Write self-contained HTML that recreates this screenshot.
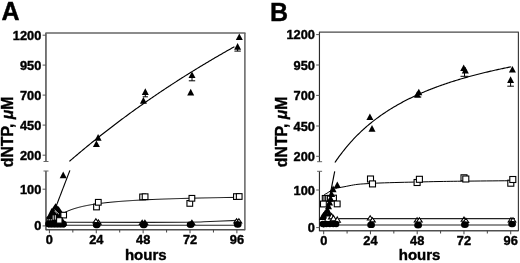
<!DOCTYPE html>
<html><head><meta charset="utf-8"><style>
html,body{margin:0;padding:0;background:#fff;overflow:hidden;}
svg{display:block;filter:grayscale(100%) blur(0.3px);}
text{font-family:"Liberation Sans", sans-serif;fill:#000;stroke:#000;stroke-width:0.4px;}
</style></head><body>
<svg width="520" height="263" viewBox="0 0 520 263">
<rect width="520" height="263" fill="#fff"/>
<path d="M244.9 229.7H46.0" stroke="#505050" stroke-width="1.35" fill="none"/>
<path d="M45.95 161.5V33.0M45.95 230.29999999999998V171.0" stroke="#404040" stroke-width="1.4" fill="none"/>
<path d="M244.9 33.0V230.29999999999998" stroke="#505050" stroke-width="1.35" fill="none"/>
<path d="M45.4 32.9H245.5" stroke="#666" stroke-width="1.45" fill="none"/>
<path d="M43.5 161.5H48.5M43.5 171.0H48.5" stroke="#666" stroke-width="1"/>
<path d="M42.6 35.2H46.0" stroke="#555" stroke-width="1"/>
<text x="41.30" y="39.70" text-anchor="end" font-size="12.8" font-weight="bold">1200</text>
<path d="M42.6 65.1H46.0" stroke="#555" stroke-width="1"/>
<text x="41.30" y="69.60" text-anchor="end" font-size="12.8" font-weight="bold">950</text>
<path d="M42.6 95.1H46.0" stroke="#555" stroke-width="1"/>
<text x="41.30" y="99.60" text-anchor="end" font-size="12.8" font-weight="bold">700</text>
<path d="M42.6 125.1H46.0" stroke="#555" stroke-width="1"/>
<text x="41.30" y="129.60" text-anchor="end" font-size="12.8" font-weight="bold">450</text>
<path d="M42.6 155.2H46.0" stroke="#555" stroke-width="1"/>
<text x="41.30" y="159.70" text-anchor="end" font-size="12.8" font-weight="bold">200</text>
<path d="M42.6 189.2H46.0" stroke="#555" stroke-width="1"/>
<text x="41.30" y="193.70" text-anchor="end" font-size="12.8" font-weight="bold">100</text>
<path d="M42.6 225.9H46.0" stroke="#555" stroke-width="1"/>
<text x="41.30" y="230.40" text-anchor="end" font-size="12.8" font-weight="bold">0</text>
<path d="M49.40 229.7V233.29999999999998" stroke="#444" stroke-width="1"/>
<text x="49.40" y="243.8" text-anchor="middle" font-size="12.8" font-weight="bold">0</text>
<path d="M72.84 229.7V232.5" stroke="#444" stroke-width="1"/>
<path d="M96.27 229.7V233.29999999999998" stroke="#444" stroke-width="1"/>
<text x="96.27" y="243.8" text-anchor="middle" font-size="12.8" font-weight="bold">24</text>
<path d="M119.71 229.7V232.5" stroke="#444" stroke-width="1"/>
<path d="M143.14 229.7V233.29999999999998" stroke="#444" stroke-width="1"/>
<text x="143.14" y="243.8" text-anchor="middle" font-size="12.8" font-weight="bold">48</text>
<path d="M166.58 229.7V232.5" stroke="#444" stroke-width="1"/>
<path d="M190.02 229.7V233.29999999999998" stroke="#444" stroke-width="1"/>
<text x="190.02" y="243.8" text-anchor="middle" font-size="12.8" font-weight="bold">72</text>
<path d="M213.45 229.7V232.5" stroke="#444" stroke-width="1"/>
<path d="M236.89 229.7V233.29999999999998" stroke="#444" stroke-width="1"/>
<text x="236.89" y="243.8" text-anchor="middle" font-size="12.8" font-weight="bold">96</text>
<text x="145.8" y="259.6" text-anchor="middle" font-size="15" font-weight="bold">hours</text>
<text transform="translate(13.2 131.9) rotate(-90)" text-anchor="middle" font-size="15.8" font-weight="bold">dNTP, <tspan font-style="italic">μ</tspan>M</text>
<text x="1.5" y="19.8" font-size="25" font-weight="bold">A</text>
<path d="M69.40 161.37L70.38 160.53L71.35 159.69L72.33 158.85L73.30 158.01L74.28 157.18L75.26 156.35L76.23 155.52L77.21 154.69L78.19 153.87L79.16 153.04L80.14 152.22L81.12 151.41L82.09 150.59L83.07 149.78L84.05 148.97L85.02 148.16L86.00 147.36L86.98 146.55L87.95 145.75L88.93 144.95L89.91 144.15L90.88 143.36L91.86 142.57L92.83 141.78L93.81 140.99L94.79 140.20L95.76 139.42L96.74 138.64L97.72 137.86L98.69 137.08L99.67 136.31L100.65 135.54L101.62 134.77L102.60 134.00L103.58 133.23L104.55 132.47L105.53 131.71L106.51 130.95L107.48 130.19L108.46 129.43L109.44 128.68L110.41 127.93L111.39 127.18L112.36 126.43L113.34 125.68L114.32 124.94L115.29 124.20L116.27 123.46L117.25 122.72L118.22 121.99L119.20 121.25L120.18 120.52L121.15 119.79L122.13 119.07L123.11 118.34L124.08 117.62L125.06 116.89L126.04 116.18L127.01 115.46L127.99 114.74L128.97 114.03L129.94 113.32L130.92 112.60L131.89 111.90L132.87 111.19L133.85 110.49L134.82 109.78L135.80 109.08L136.78 108.38L137.75 107.69L138.73 106.99L139.71 106.30L140.68 105.61L141.66 104.92L142.64 104.23L143.61 103.54L144.59 102.86L145.57 102.17L146.54 101.49L147.52 100.81L148.50 100.14L149.47 99.46L150.45 98.79L151.42 98.11L152.40 97.44L153.38 96.78L154.35 96.11L155.33 95.44L156.31 94.78L157.28 94.12L158.26 93.46L159.24 92.80L160.21 92.14L161.19 91.49L162.17 90.83L163.14 90.18L164.12 89.53L165.10 88.88L166.07 88.24L167.05 87.59L168.03 86.95L169.00 86.31L169.98 85.66L170.95 85.03L171.93 84.39L172.91 83.75L173.88 83.12L174.86 82.49L175.84 81.86L176.81 81.23L177.79 80.60L178.77 79.97L179.74 79.35L180.72 78.73L181.70 78.11L182.67 77.49L183.65 76.87L184.63 76.25L185.60 75.63L186.58 75.02L187.56 74.41L188.53 73.80L189.51 73.19L190.48 72.58L191.46 71.98L192.44 71.37L193.41 70.77L194.39 70.17L195.37 69.57L196.34 68.97L197.32 68.37L198.30 67.77L199.27 67.18L200.25 66.59L201.23 65.99L202.20 65.40L203.18 64.82L204.16 64.23L205.13 63.64L206.11 63.06L207.09 62.47L208.06 61.89L209.04 61.31L210.01 60.73L210.99 60.16L211.97 59.58L212.94 59.01L213.92 58.43L214.90 57.86L215.87 57.29L216.85 56.72L217.83 56.15L218.80 55.59L219.78 55.02L220.76 54.46L221.73 53.89L222.71 53.33L223.69 52.77L224.66 52.21L225.64 51.66L226.62 51.10L227.59 50.55L228.57 49.99L229.54 49.44L230.52 48.89L231.50 48.34L232.47 47.79L233.45 47.25L234.43 46.70" stroke="#000" stroke-width="1.15" fill="none"/>
<path d="M48.60 225.90L69.90 170.40" stroke="#000" stroke-width="1.15" fill="none"/>
<path d="M63.07 213.35L64.05 212.82L65.02 212.32L66.00 211.85L66.98 211.40L67.95 210.97L68.93 210.56L69.91 210.18L70.88 209.81L71.86 209.46L72.84 209.12L73.81 208.80L74.79 208.49L75.77 208.19L76.74 207.91L77.72 207.63L78.69 207.37L79.67 207.12L80.65 206.88L81.62 206.64L82.60 206.42L83.58 206.20L84.55 205.99L85.53 205.79L86.51 205.59L87.48 205.40L88.46 205.22L89.44 205.04L90.41 204.87L91.39 204.70L92.37 204.54L93.34 204.39L94.32 204.23L95.30 204.09L96.27 203.94L97.25 203.80L98.22 203.67L99.20 203.54L100.18 203.41L101.15 203.29L102.13 203.16L103.11 203.05L104.08 202.93L105.06 202.82L106.04 202.71L107.01 202.60L107.99 202.50L108.97 202.40L109.94 202.30L110.92 202.20L111.90 202.11L112.87 202.02L113.85 201.93L114.83 201.84L115.80 201.75L116.78 201.67L117.75 201.59L118.73 201.51L119.71 201.43L120.68 201.35L121.66 201.28L122.64 201.20L123.61 201.13L124.59 201.06L125.57 200.99L126.54 200.92L127.52 200.85L128.50 200.79L129.47 200.72L130.45 200.66L131.43 200.60L132.40 200.54L133.38 200.48L134.36 200.42L135.33 200.36L136.31 200.31L137.28 200.25L138.26 200.20L139.24 200.15L140.21 200.09L141.19 200.04L142.17 199.99L143.14 199.94L144.12 199.89L145.10 199.84L146.07 199.80L147.05 199.75L148.03 199.70L149.00 199.66L149.98 199.62L150.96 199.57L151.93 199.53L152.91 199.49L153.89 199.45L154.86 199.40L155.84 199.36L156.81 199.32L157.79 199.29L158.77 199.25L159.74 199.21L160.72 199.17L161.70 199.14L162.67 199.10L163.65 199.06L164.63 199.03L165.60 198.99L166.58 198.96L167.56 198.93L168.53 198.89L169.51 198.86L170.49 198.83L171.46 198.79L172.44 198.76L173.42 198.73L174.39 198.70L175.37 198.67L176.34 198.64L177.32 198.61L178.30 198.58L179.27 198.55L180.25 198.53L181.23 198.50L182.20 198.47L183.18 198.44L184.16 198.42L185.13 198.39L186.11 198.36L187.09 198.34L188.06 198.31L189.04 198.29L190.02 198.26L190.99 198.24L191.97 198.21L192.95 198.19L193.92 198.16L194.90 198.14L195.88 198.12L196.85 198.10L197.83 198.07L198.80 198.05L199.78 198.03L200.76 198.01L201.73 197.98L202.71 197.96L203.69 197.94L204.66 197.92L205.64 197.90L206.62 197.88L207.59 197.86L208.57 197.84L209.55 197.82L210.52 197.80L211.50 197.78L212.48 197.76L213.45 197.74L214.43 197.72L215.41 197.70L216.38 197.69L217.36 197.67L218.33 197.65L219.31 197.63L220.29 197.61L221.26 197.60L222.24 197.58L223.22 197.56L224.19 197.54L225.17 197.53L226.15 197.51L227.12 197.49L228.10 197.48L229.08 197.46L230.05 197.45L231.03 197.43L232.01 197.41L232.98 197.40L233.96 197.38L234.94 197.37L235.91 197.35L236.89 197.34" stroke="#000" stroke-width="1.0" fill="none"/>
<path d="M60 222.3L150 222.4C175 222.4 195 222.3 204 221.8C215 221.3 228 220.9 237.5 220.4" stroke="#222" stroke-width="1.1" fill="none"/>
<path d="M60 225.2H238" stroke="#222" stroke-width="1.1" fill="none"/>
<rect x="93.65" y="204.15" width="5.70" height="5.70" fill="#fff" stroke="#000" stroke-width="1.1"/>
<rect x="95.45" y="199.45" width="5.70" height="5.70" fill="#fff" stroke="#000" stroke-width="1.1"/>
<rect x="139.75" y="194.05" width="5.70" height="5.70" fill="#fff" stroke="#000" stroke-width="1.1"/>
<rect x="142.25" y="193.85" width="5.70" height="5.70" fill="#fff" stroke="#000" stroke-width="1.1"/>
<rect x="186.95" y="200.55" width="5.70" height="5.70" fill="#fff" stroke="#000" stroke-width="1.1"/>
<rect x="189.05" y="195.45" width="5.70" height="5.70" fill="#fff" stroke="#000" stroke-width="1.1"/>
<rect x="233.55" y="193.75" width="5.70" height="5.70" fill="#fff" stroke="#000" stroke-width="1.1"/>
<rect x="236.35" y="193.65" width="5.70" height="5.70" fill="#fff" stroke="#000" stroke-width="1.1"/>
<path d="M55.6 203.2L57.7 206.2L58.7 206.5L62.6 212.3L62.4 217.8L66.7 224.3L66.7 225.6L64.6 227.4L48.3 227.6L46.3 226.2L46.3 217.2L47.6 215.9L51.5 208.3L52.1 208.4Z" fill="#000"/>
<circle cx="48.50" cy="224.00" r="3.30" fill="#000"/>
<circle cx="51.50" cy="224.00" r="3.30" fill="#000"/>
<circle cx="54.50" cy="224.00" r="3.30" fill="#000"/>
<circle cx="57.50" cy="224.00" r="3.30" fill="#000"/>
<circle cx="60.50" cy="224.00" r="3.30" fill="#000"/>
<circle cx="63.50" cy="224.00" r="3.30" fill="#000"/>
<rect x="60.90" y="212.30" width="5.60" height="5.60" fill="#fff" stroke="#000" stroke-width="1.1"/>
<rect x="56.60" y="217.70" width="5.40" height="5.40" fill="#fff" stroke="#000" stroke-width="1.1"/>
<path d="M53.2 215.4V219.8M55.3 215.2V219.6" stroke="#fff" stroke-width="0.9"/>
<path d="M54.6 209.9L59.0 214.2M54.9 211.1Q55.6 212.5 56.9 213.4" stroke="#fff" stroke-width="0.75" fill="none"/>
<circle cx="47.9" cy="219.8" r="0.55" fill="#fff"/>
<circle cx="49.6" cy="219.8" r="0.55" fill="#fff"/>
<circle cx="51.3" cy="219.8" r="0.55" fill="#fff"/>
<path d="M98.30 219.90L101.10 224.10L95.50 224.10Z" fill="#fff" stroke="#000" stroke-width="1.1" stroke-linejoin="miter"/>
<path d="M95.90 218.70L98.70 222.90L93.10 222.90Z" fill="#fff" stroke="#000" stroke-width="1.1" stroke-linejoin="miter"/>
<circle cx="96.00" cy="225.10" r="3.15" fill="#000"/>
<circle cx="97.40" cy="225.10" r="3.15" fill="#000"/>
<path d="M142.20 220.20L145.00 224.40L139.40 224.40Z" fill="#fff" stroke="#000" stroke-width="1.1" stroke-linejoin="miter"/>
<path d="M144.90 220.20L147.70 224.40L142.10 224.40Z" fill="#fff" stroke="#000" stroke-width="1.1" stroke-linejoin="miter"/>
<circle cx="143.00" cy="225.00" r="3.15" fill="#000"/>
<circle cx="144.40" cy="225.00" r="3.15" fill="#000"/>
<path d="M191.90 220.20L194.70 224.40L189.10 224.40Z" fill="#fff" stroke="#000" stroke-width="1.1" stroke-linejoin="miter"/>
<circle cx="189.90" cy="224.70" r="3.15" fill="#000"/>
<circle cx="191.30" cy="224.70" r="3.15" fill="#000"/>
<path d="M236.60 218.70L239.40 222.90L233.80 222.90Z" fill="#fff" stroke="#000" stroke-width="1.1" stroke-linejoin="miter"/>
<path d="M238.90 218.70L241.70 222.90L236.10 222.90Z" fill="#fff" stroke="#000" stroke-width="1.1" stroke-linejoin="miter"/>
<circle cx="237.00" cy="224.40" r="3.15" fill="#000"/>
<circle cx="238.40" cy="224.40" r="3.15" fill="#000"/>
<path d="M237.60 46.00V51.10M234.40 51.10H240.80" stroke="#000" stroke-width="1" fill="none"/>
<path d="M192.00 74.00V80.80M188.80 80.80H195.20" stroke="#000" stroke-width="1" fill="none"/>
<path d="M145.30 91.00V96.80M142.70 96.80H147.90" stroke="#000" stroke-width="1" fill="none"/>
<path d="M239.30 33.40L242.80 40.00L235.80 40.00Z" fill="#000"/>
<path d="M237.60 43.10L241.10 49.70L234.10 49.70Z" fill="#000"/>
<path d="M192.00 71.40L195.50 78.00L188.50 78.00Z" fill="#000"/>
<path d="M190.70 88.80L194.20 95.40L187.20 95.40Z" fill="#000"/>
<path d="M145.30 88.30L148.80 94.90L141.80 94.90Z" fill="#000"/>
<path d="M143.40 97.10L146.90 103.70L139.90 103.70Z" fill="#000"/>
<path d="M98.10 134.10L101.60 140.70L94.60 140.70Z" fill="#000"/>
<path d="M96.40 140.40L99.90 147.00L92.90 147.00Z" fill="#000"/>
<path d="M63.20 171.60L66.70 178.20L59.70 178.20Z" fill="#000"/>
<path d="M518.2 230.7H319.6" stroke="#505050" stroke-width="1.35" fill="none"/>
<path d="M319.45 161.7V32.1M319.45 231.29999999999998V171.3" stroke="#2a2a2a" stroke-width="1.15" fill="none"/>
<path d="M518.4 32.1V231.29999999999998" stroke="#383838" stroke-width="1.15" fill="none"/>
<path d="M319.0 32.05H518.8000000000001" stroke="#484848" stroke-width="1.3" fill="none"/>
<path d="M317.1 161.7H322.1M317.1 171.3H322.1" stroke="#666" stroke-width="1"/>
<path d="M316.20000000000005 34.6H319.6" stroke="#555" stroke-width="1"/>
<text x="314.90" y="39.10" text-anchor="end" font-size="12.8" font-weight="bold">1200</text>
<path d="M316.20000000000005 65.0H319.6" stroke="#555" stroke-width="1"/>
<text x="314.90" y="69.50" text-anchor="end" font-size="12.8" font-weight="bold">950</text>
<path d="M316.20000000000005 95.4H319.6" stroke="#555" stroke-width="1"/>
<text x="314.90" y="99.90" text-anchor="end" font-size="12.8" font-weight="bold">700</text>
<path d="M316.20000000000005 126.0H319.6" stroke="#555" stroke-width="1"/>
<text x="314.90" y="130.50" text-anchor="end" font-size="12.8" font-weight="bold">450</text>
<path d="M316.20000000000005 156.3H319.6" stroke="#555" stroke-width="1"/>
<text x="314.90" y="160.80" text-anchor="end" font-size="12.8" font-weight="bold">200</text>
<path d="M316.20000000000005 190.0H319.6" stroke="#555" stroke-width="1"/>
<text x="314.90" y="194.50" text-anchor="end" font-size="12.8" font-weight="bold">100</text>
<path d="M316.20000000000005 227.6H319.6" stroke="#555" stroke-width="1"/>
<text x="314.90" y="232.10" text-anchor="end" font-size="12.8" font-weight="bold">0</text>
<path d="M323.70 230.7V234.29999999999998" stroke="#444" stroke-width="1"/>
<text x="323.70" y="244.9" text-anchor="middle" font-size="12.8" font-weight="bold">0</text>
<path d="M347.08 230.7V233.5" stroke="#444" stroke-width="1"/>
<path d="M370.45 230.7V234.29999999999998" stroke="#444" stroke-width="1"/>
<text x="370.45" y="244.9" text-anchor="middle" font-size="12.8" font-weight="bold">24</text>
<path d="M393.83 230.7V233.5" stroke="#444" stroke-width="1"/>
<path d="M417.20 230.7V234.29999999999998" stroke="#444" stroke-width="1"/>
<text x="417.20" y="244.9" text-anchor="middle" font-size="12.8" font-weight="bold">48</text>
<path d="M440.58 230.7V233.5" stroke="#444" stroke-width="1"/>
<path d="M463.96 230.7V234.29999999999998" stroke="#444" stroke-width="1"/>
<text x="463.96" y="244.9" text-anchor="middle" font-size="12.8" font-weight="bold">72</text>
<path d="M487.33 230.7V233.5" stroke="#444" stroke-width="1"/>
<path d="M510.71 230.7V234.29999999999998" stroke="#444" stroke-width="1"/>
<text x="510.71" y="244.9" text-anchor="middle" font-size="12.8" font-weight="bold">96</text>
<text x="419.6" y="260.4" text-anchor="middle" font-size="15" font-weight="bold">hours</text>
<text transform="translate(287.2 131.8) rotate(-90)" text-anchor="middle" font-size="15.8" font-weight="bold">dNTP, <tspan font-style="italic">μ</tspan>M</text>
<text x="270.0" y="20.5" font-size="25" font-weight="bold">B</text>
<path d="M334.90 162.55L335.88 161.11L336.85 159.70L337.82 158.32L338.80 156.96L339.77 155.63L340.75 154.32L341.72 153.03L342.69 151.77L343.67 150.53L344.64 149.31L345.62 148.11L346.59 146.93L347.56 145.77L348.54 144.64L349.51 143.52L350.49 142.42L351.46 141.34L352.43 140.28L353.41 139.23L354.38 138.20L355.35 137.19L356.33 136.19L357.30 135.21L358.28 134.25L359.25 133.30L360.22 132.36L361.20 131.44L362.17 130.53L363.15 129.64L364.12 128.76L365.09 127.89L366.07 127.04L367.04 126.19L368.02 125.36L368.99 124.55L369.96 123.74L370.94 122.94L371.91 122.16L372.89 121.39L373.86 120.63L374.83 119.88L375.81 119.14L376.78 118.40L377.76 117.68L378.73 116.97L379.70 116.27L380.68 115.58L381.65 114.90L382.63 114.22L383.60 113.56L384.57 112.90L385.55 112.25L386.52 111.61L387.50 110.98L388.47 110.35L389.44 109.74L390.42 109.13L391.39 108.53L392.37 107.93L393.34 107.35L394.31 106.77L395.29 106.20L396.26 105.63L397.24 105.07L398.21 104.52L399.19 103.97L400.16 103.43L401.13 102.90L402.11 102.38L403.08 101.85L404.06 101.34L405.03 100.83L406.00 100.33L406.98 99.83L407.95 99.34L408.92 98.85L409.90 98.37L410.87 97.90L411.85 97.42L412.82 96.96L413.79 96.50L414.77 96.04L415.74 95.59L416.72 95.15L417.69 94.71L418.66 94.27L419.64 93.84L420.61 93.41L421.59 92.99L422.56 92.57L423.53 92.16L424.51 91.75L425.48 91.34L426.46 90.94L427.43 90.54L428.40 90.15L429.38 89.76L430.35 89.37L431.33 88.99L432.30 88.61L433.27 88.24L434.25 87.87L435.22 87.50L436.20 87.13L437.17 86.77L438.14 86.42L439.12 86.06L440.09 85.71L441.07 85.37L442.04 85.02L443.01 84.68L443.99 84.35L444.96 84.01L445.94 83.68L446.91 83.35L447.88 83.03L448.86 82.71L449.83 82.39L450.81 82.07L451.78 81.76L452.75 81.45L453.73 81.14L454.70 80.83L455.68 80.53L456.65 80.23L457.62 79.93L458.60 79.64L459.57 79.35L460.55 79.06L461.52 78.77L462.50 78.48L463.47 78.20L464.44 77.92L465.42 77.64L466.39 77.37L467.37 77.10L468.34 76.82L469.31 76.56L470.29 76.29L471.26 76.03L472.24 75.76L473.21 75.50L474.18 75.25L475.16 74.99L476.13 74.74L477.11 74.49L478.08 74.24L479.05 73.99L480.03 73.74L481.00 73.50L481.98 73.26L482.95 73.02L483.92 72.78L484.90 72.54L485.87 72.31L486.85 72.08L487.82 71.85L488.79 71.62L489.77 71.39L490.74 71.16L491.71 70.94L492.69 70.72L493.66 70.50L494.64 70.28L495.61 70.06L496.58 69.85L497.56 69.63L498.53 69.42L499.51 69.21L500.48 69.00L501.45 68.79L502.43 68.59L503.40 68.38L504.38 68.18L505.35 67.98L506.32 67.78L507.30 67.58L508.27 67.38L509.25 67.18L510.22 66.99L511.19 66.80" stroke="#000" stroke-width="1.15" fill="none"/>
<path d="M323.70 227.60L334.70 171.30" stroke="#000" stroke-width="1.15" fill="none"/>
<path d="M324.00 194.70C324.50 194.45 325.83 193.88 327.00 193.20C328.17 192.52 329.60 191.37 331.00 190.60C332.40 189.83 333.90 189.12 335.40 188.60C336.90 188.08 338.57 187.80 340.00 187.50C341.43 187.20 342.33 187.12 344.00 186.80C345.67 186.48 347.67 186.02 350.00 185.60C352.33 185.18 354.67 184.65 358.00 184.30C361.33 183.95 366.33 183.72 370.00 183.50C373.67 183.28 375.00 183.18 380.00 183.00C385.00 182.82 393.67 182.57 400.00 182.40C406.33 182.23 411.33 182.15 418.00 182.00C424.67 181.85 431.33 181.65 440.00 181.50C448.67 181.35 458.00 181.23 470.00 181.10C482.00 180.97 505.00 180.77 512.00 180.70" stroke="#000" stroke-width="1.0" fill="none"/>
<path d="M339 218.6H515" stroke="#222" stroke-width="1.1" fill="none"/>
<path d="M338 225.0H515" stroke="#222" stroke-width="1.1" fill="none"/>
<rect x="322.30" y="195.50" width="5.60" height="5.60" fill="#fff" stroke="#000" stroke-width="1.1"/>
<rect x="324.00" y="195.50" width="5.60" height="5.60" fill="#fff" stroke="#000" stroke-width="1.1"/>
<rect x="325.70" y="195.50" width="5.60" height="5.60" fill="#fff" stroke="#000" stroke-width="1.1"/>
<rect x="327.40" y="195.50" width="5.60" height="5.60" fill="#fff" stroke="#000" stroke-width="1.1"/>
<rect x="330.80" y="195.20" width="5.60" height="5.60" fill="#fff" stroke="#000" stroke-width="1.1"/>
<rect x="320.50" y="201.10" width="5.80" height="5.80" fill="#fff" stroke="#000" stroke-width="1.1"/>
<rect x="334.30" y="201.00" width="5.80" height="5.80" fill="#fff" stroke="#000" stroke-width="1.1"/>
<path d="M337.30 181.40L340.80 188.00L333.80 188.00Z" fill="#000"/>
<path d="M333.10 185.60L336.60 192.20L329.60 192.20Z" fill="#000"/>
<path d="M331.60 190.50L335.10 197.10L328.10 197.10Z" fill="#000"/>
<path d="M330.60 194.80L334.10 201.40L327.10 201.40Z" fill="#000"/>
<path d="M329.60 198.80L333.10 205.40L326.10 205.40Z" fill="#000"/>
<path d="M328.50 202.60L332.00 209.20L325.00 209.20Z" fill="#000"/>
<path d="M327.40 206.30L330.90 212.90L323.90 212.90Z" fill="#000"/>
<path d="M325.20 209.50L328.70 216.10L321.70 216.10Z" fill="#000"/>
<path d="M323.60 211.80L327.10 218.40L320.10 218.40Z" fill="#000"/>
<path d="M329.00 209.80L332.50 216.40L325.50 216.40Z" fill="#000"/>
<path d="M322.40 213.30L325.90 219.90L318.90 219.90Z" fill="#000"/>
<path d="M331.60 213.50L334.70 218.90L328.50 218.90Z" fill="#fff" stroke="#000" stroke-width="1.1" stroke-linejoin="miter"/>
<path d="M333.50 215.40L336.60 220.80L330.40 220.80Z" fill="#fff" stroke="#000" stroke-width="1.1" stroke-linejoin="miter"/>
<path d="M337.30 216.90L340.40 222.30L334.20 222.30Z" fill="#fff" stroke="#000" stroke-width="1.1" stroke-linejoin="miter"/>
<circle cx="322.80" cy="224.00" r="3.20" fill="#000"/>
<circle cx="326.30" cy="224.00" r="3.20" fill="#000"/>
<circle cx="329.80" cy="224.00" r="3.20" fill="#000"/>
<circle cx="333.30" cy="224.00" r="3.20" fill="#000"/>
<circle cx="336.20" cy="224.00" r="3.20" fill="#000"/>
<rect x="367.50" y="176.00" width="6.00" height="6.00" fill="#fff" stroke="#000" stroke-width="1.1"/>
<rect x="369.50" y="180.90" width="6.00" height="6.00" fill="#fff" stroke="#000" stroke-width="1.1"/>
<rect x="414.10" y="179.50" width="6.00" height="6.00" fill="#fff" stroke="#000" stroke-width="1.1"/>
<rect x="416.40" y="176.30" width="6.00" height="6.00" fill="#fff" stroke="#000" stroke-width="1.1"/>
<rect x="461.00" y="174.80" width="6.00" height="6.00" fill="#fff" stroke="#000" stroke-width="1.1"/>
<rect x="462.80" y="176.00" width="6.00" height="6.00" fill="#fff" stroke="#000" stroke-width="1.1"/>
<rect x="507.80" y="180.20" width="6.00" height="6.00" fill="#fff" stroke="#000" stroke-width="1.1"/>
<rect x="509.80" y="176.50" width="6.00" height="6.00" fill="#fff" stroke="#000" stroke-width="1.1"/>
<path d="M370.20 215.80L373.00 220.00L367.40 220.00Z" fill="#fff" stroke="#000" stroke-width="1.1" stroke-linejoin="miter"/>
<path d="M372.50 217.70L375.30 221.90L369.70 221.90Z" fill="#fff" stroke="#000" stroke-width="1.1" stroke-linejoin="miter"/>
<circle cx="370.40" cy="224.90" r="3.15" fill="#000"/>
<circle cx="371.80" cy="224.90" r="3.15" fill="#000"/>
<path d="M417.10 217.80L419.90 222.00L414.30 222.00Z" fill="#fff" stroke="#000" stroke-width="1.1" stroke-linejoin="miter"/>
<path d="M419.40 217.80L422.20 222.00L416.60 222.00Z" fill="#fff" stroke="#000" stroke-width="1.1" stroke-linejoin="miter"/>
<circle cx="417.40" cy="225.20" r="3.15" fill="#000"/>
<circle cx="418.80" cy="225.20" r="3.15" fill="#000"/>
<path d="M464.00 217.10L466.80 221.30L461.20 221.30Z" fill="#fff" stroke="#000" stroke-width="1.1" stroke-linejoin="miter"/>
<path d="M465.90 218.20L468.70 222.40L463.10 222.40Z" fill="#fff" stroke="#000" stroke-width="1.1" stroke-linejoin="miter"/>
<circle cx="464.20" cy="224.70" r="3.15" fill="#000"/>
<circle cx="465.60" cy="224.70" r="3.15" fill="#000"/>
<path d="M511.00 217.80L513.80 222.00L508.20 222.00Z" fill="#fff" stroke="#000" stroke-width="1.1" stroke-linejoin="miter"/>
<path d="M513.00 217.80L515.80 222.00L510.20 222.00Z" fill="#fff" stroke="#000" stroke-width="1.1" stroke-linejoin="miter"/>
<circle cx="511.40" cy="224.10" r="3.15" fill="#000"/>
<circle cx="512.80" cy="224.10" r="3.15" fill="#000"/>
<path d="M464.50 70.00V76.30M460.50 76.30H468.50" stroke="#000" stroke-width="1" fill="none"/>
<path d="M510.60 80.00V86.20M507.30 86.20H513.90" stroke="#000" stroke-width="1" fill="none"/>
<path d="M418.00 94.00V97.00M414.70 97.00H421.30" stroke="#000" stroke-width="1" fill="none"/>
<path d="M369.90 113.40L373.40 120.00L366.40 120.00Z" fill="#000"/>
<path d="M372.00 125.10L375.50 131.70L368.50 131.70Z" fill="#000"/>
<path d="M418.80 88.70L422.30 95.30L415.30 95.30Z" fill="#000"/>
<path d="M417.30 91.00L420.80 97.60L413.80 97.60Z" fill="#000"/>
<path d="M463.70 64.40L467.20 71.00L460.20 71.00Z" fill="#000"/>
<path d="M465.30 66.80L468.80 73.40L461.80 73.40Z" fill="#000"/>
<path d="M512.40 66.00L515.90 72.60L508.90 72.60Z" fill="#000"/>
<path d="M510.60 76.30L514.10 82.90L507.10 82.90Z" fill="#000"/>
</svg>
</body></html>
